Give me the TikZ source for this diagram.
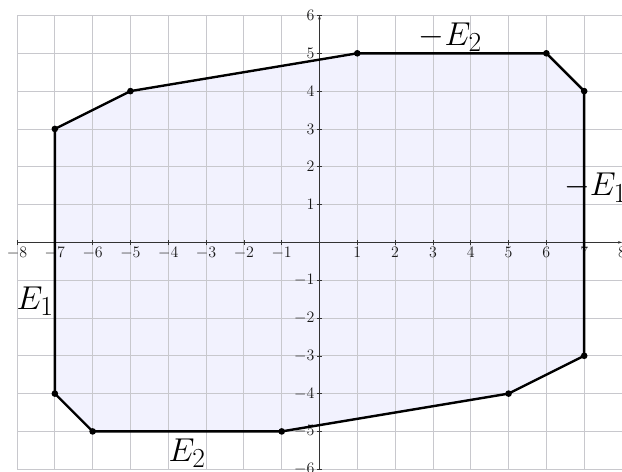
\documentclass[tikz,border=0pt]{standalone}
\usepackage{amsmath}
\usetikzlibrary{arrows.meta}
\definecolor{regionfill}{RGB}{242, 242, 254}
\definecolor{gridgray}{RGB}{200, 200, 205}

\begin{document}
\begin{tikzpicture}[
  edge/.style={line width=1.8pt, black, line join=round},
  vertexdot/.style={circle, fill=black, inner sep=0pt, minimum size=5pt},
  ticklabel/.style={font=\fontsize{13}{15}\selectfont, text=black!90, inner sep=2pt},
  edgelabel/.style={font=\Huge, inner sep=1pt}]
  \useasboundingbox (-8.45,-6.07) rectangle (8.0,6.41);

  % Vertices of the region
  \coordinate (v1) at (1,5);
  \coordinate (v2) at (6,5);
  \coordinate (v3) at (7,4);
  \coordinate (v4) at (7,-3);
  \coordinate (v5) at (5,-4);
  \coordinate (v6) at (-1,-5);
  \coordinate (v7) at (-6,-5);
  \coordinate (v8) at (-7,-4);
  \coordinate (v9) at (-7,3);
  \coordinate (v10) at (-5,4);

  % Region
  \fill[regionfill] (v1) -- (v2) -- (v3) -- (v4) -- (v5) -- (v6) -- (v7) -- (v8) -- (v9) -- (v10) -- cycle;

  % Grid
  \draw[gridgray, line width=0.6pt] (-8,-6) grid (8,6);

  % Axes
  \coordinate (xstart) at (-8,0);
  \coordinate (xend) at (8,0);
  \coordinate (ystart) at (0,-6);
  \coordinate (yend) at (0,6);
  \draw[-{Stealth[length=3pt, width=2pt]}, black!80, line width=0.6pt] (xstart) -- (xend);
  \draw[-{Stealth[length=3pt, width=2pt]}, black!80, line width=0.6pt] (ystart) -- (yend);

  % Ticks and labels
  \foreach \x [count=\i] in {-8,-7,-6,-5,-4,-3,-2,-1,1,2,3,4,5,6,7,8} {
    \draw[black!80, line width=0.4pt] (\x,-0.06) -- (\x,0.06);
    \node[ticklabel, below] (xtick\i) at (\x,-0.06) {$\x$};
  }
  \foreach \y [count=\i] in {-6,-5,-4,-3,-2,-1,1,2,3,4,5,6} {
    \draw[black!80, line width=0.4pt] (-0.06,\y) -- (0.06,\y);
    \node[ticklabel, left] (ytick\i) at (-0.06,\y) {$\y$};
  }

  % Boundary
  \draw[edge] (v1) -- (v2) -- (v3) -- (v4) -- (v5) -- (v6) -- (v7) -- (v8) -- (v9) -- (v10) -- cycle;
  \foreach \v in {1,...,10}
    \node[vertexdot] (dot\v) at (v\v) {};

  % Edge labels
  \node[edgelabel] (mE2) at (3.46,5.43) {$-E_2$};
  \node[edgelabel] (E2) at (-3.5,-5.57) {$E_2$};
  \node[edgelabel] (E1) at (-7.52,-1.56) {$E_1$};
  \node[edgelabel] (mE1) at (7.3,1.45) {$-E_1$};
\end{tikzpicture}
\end{document}
